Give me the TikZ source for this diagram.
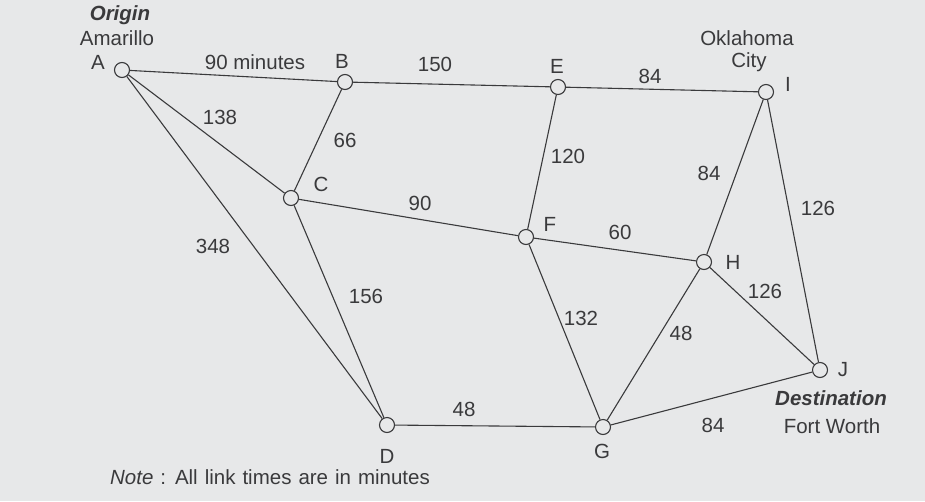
\documentclass[tikz,border=0pt]{standalone}
\usepackage{fontspec}
\setmainfont{Liberation Sans}
\usetikzlibrary{positioning}
\definecolor{paper}{RGB}{231,232,233}
\definecolor{ink}{RGB}{58,58,60}
\tikzset{x=1pt, y=-1pt,
every node/.style={ % Sets the text of all labels
text=ink,
inner sep=1pt,
font=\fontsize{20.5}{22}\selectfont},
town/.style={ % Sets the properties for each town
circle,
draw=ink,
fill=paper,
line width=1.1pt,
minimum size=15pt,
inner sep=0pt},
every edge/.style={ % Sets the properties for each link
draw=ink,
line width=1.1pt}}

\begin{document}
\begin{tikzpicture}
\fill[paper] (0,0) rectangle (925,501);
\useasboundingbox (0,0) rectangle (925,501);
% towns
\node[town] (a) at (122,70) {};
\node[town] (b) at (345,82) {};
\node[town] (e) at (558,87) {};
\node[town] (i) at (766,92) {};
\node[town] (c) at (291,198) {};
\node[town] (f) at (526,237) {};
\node[town] (h) at (704,262) {};
\node[town] (j) at (820,370) {};
\node[town] (d) at (387,425) {};
\node[town] (g) at (603,427) {};
% links
\draw (a) edge (b) (b) edge (e) (e) edge (i);
\draw (a) edge (c) (b) edge (c) (a) edge (d) (c) edge (d);
\draw (c) edge (f) (e) edge (f) (f) edge (h) (f) edge (g);
\draw (i) edge (h) (i) edge (j) (h) edge (j) (h) edge (g);
\draw (d) edge (g) (g) edge (j);
% link times
\node at (255,62) {90 minutes};
\node at (435,64) {150};
\node at (650,76) {84};
\node at (220,117) {138};
\node at (345,140) {66};
\node at (568,156) {120};
\node at (709,173) {84};
\node at (818,208) {126};
\node at (420,203) {90};
\node at (620,232) {60};
\node at (213,246) {348};
\node at (366,296) {156};
\node at (581,318) {132};
\node at (765,291) {126};
\node at (681,333) {48};
\node at (464,409) {48};
\node at (713,425) {84};
% town letters
\node at (98,62) {A};
\node at (342,61) {B};
\node at (557,66) {E};
\node at (788,84) {I};
\node at (321,184) {C};
\node at (550,224) {F};
\node at (733,262) {H};
\node at (843,370) {J};
\node at (387,456) {D};
\node at (602,451) {G};
% town names
\node at (120,15) {\textbf{\textit{Origin}}};
\node at (117,38) {Amarillo};
\node at (747,38) {Oklahoma};
\node at (749,62) {City};
\node at (831,398) {\textbf{\textit{Destination}}};
\node at (832,426) {Fort Worth};
\node at (270,477) {\spaceskip=7pt plus 1pt\textit{Note} : All link times are in minutes};
\end{tikzpicture}
\end{document}
